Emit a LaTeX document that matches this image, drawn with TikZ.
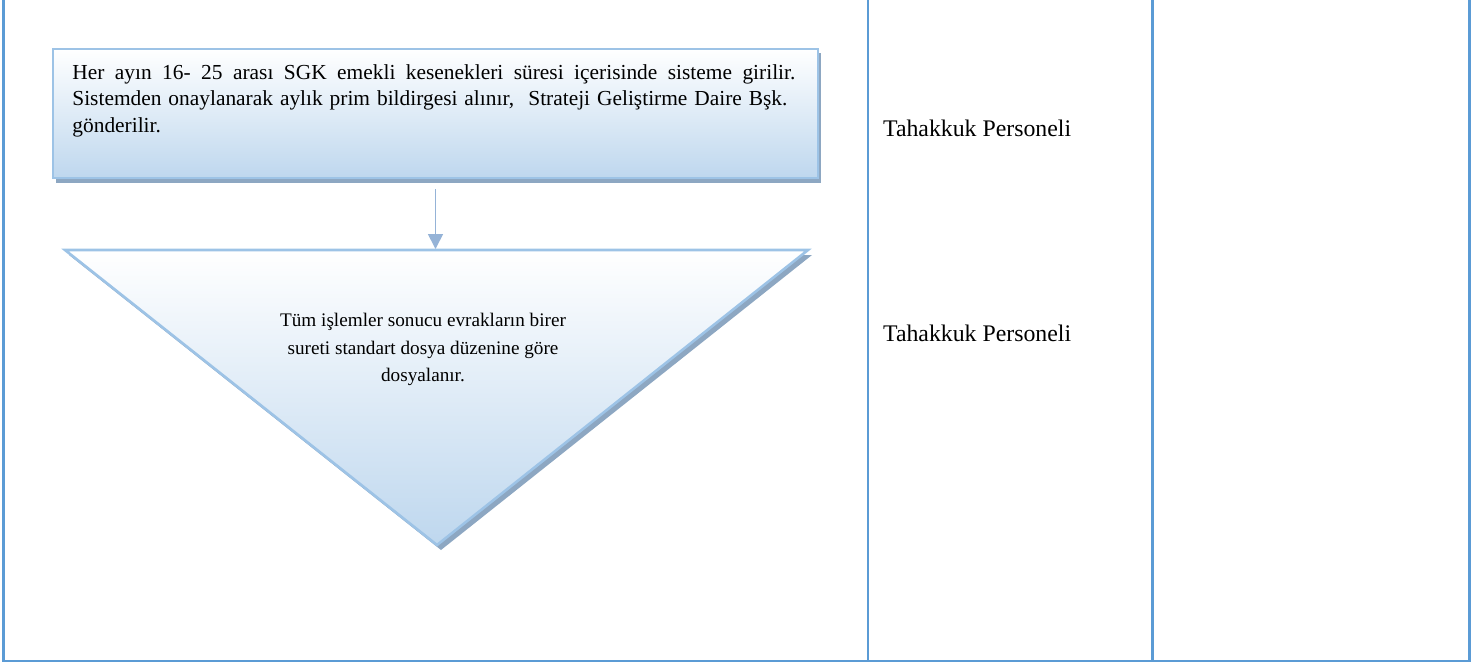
\documentclass[tikz,border=0pt]{standalone}
\usepackage{fontspec}
\setmainfont{Liberation Serif}
\usetikzlibrary{arrows.meta}
\definecolor{frameblue}{RGB}{91,155,213}
\definecolor{shapeborder}{RGB}{157,195,230}
\definecolor{shapefill}{RGB}{190,215,238}
\definecolor{shadowcol}{RGB}{141,167,194}
\definecolor{arrowcol}{RGB}{149,179,215}
\begin{document}
\begin{tikzpicture}[x=0.5pt,y=-0.5pt,
  frame/.style={draw=frameblue,line width=1.3pt},
  flowbox/.style={draw=shapeborder,line width=1pt,top color=white,bottom color=shapefill,
    minimum width=382.5pt,minimum height=64.5pt,inner sep=0pt,anchor=north west},
  flowtri/.style={draw=shapeborder,line width=1.3pt,top color=white,bottom color=shapefill},
  shadowfill/.style={fill=shadowcol},
  flowarrow/.style={draw=arrowcol,line width=0.85pt,-{Triangle[width=7.5pt,length=7.5pt]}},
  boxtext/.style={anchor=base west,inner sep=0pt,font=\fontsize{10.7}{12}\selectfont},
  tritext/.style={anchor=base,inner sep=0pt,font=\fontsize{9.6}{12}\selectfont},
  lanetext/.style={anchor=base west,inner sep=0pt,font=\fontsize{11.9}{14}\selectfont}]
\useasboundingbox (0,0) rectangle (1483,666);
% table frame
\draw[frame] (3.3,0) -- (3.3,661) -- (1469.3,661) -- (1469.3,0);
\draw[frame] (868,0) -- (868,661);
\draw[frame] (1152.3,0) -- (1152.3,661);
% process box
\fill[shadowfill] (56,53) rectangle (821,182.5);
\node[flowbox] (box) at (52,48) {};
\node[boxtext] (boxa) at (72,79) {\makebox[361.5pt][s]{Her ayın 16- 25 arası SGK emekli kesenekleri süresi içerisinde sisteme girilir.}};
\node[boxtext] (boxb) at (72,105.5) {\makebox[357.5pt][s]{Sistemden onaylanarak aylık prim bildirgesi alınır, \ Strateji Geliştirme Daire Bşk.}};
\node[boxtext] (boxc) at (72,132) {gönderilir.};
% triangle
\coordinate (tl) at (65,250);
\coordinate (tr) at (808,250);
\coordinate (tb) at (437,545);
\coordinate (tritop) at (436,249);
\fill[shadowfill] ([shift={(4,5)}]tl) -- ([shift={(4,5)}]tr) -- ([shift={(4,5)}]tb) -- cycle;
\path[flowtri] (tl) -- (tr) -- (tb) -- cycle;
\node[tritext] (tria) at (423,326.7) {Tüm işlemler sonucu evrakların birer};
\node[tritext] (trib) at (423,354) {sureti standart dosya düzenine göre};
\node[tritext] (tric) at (423,381) {dosyalanır.};
% connector
\draw[flowarrow] ([yshift=-5pt]box.south) -- (box.south |- tritop);
% lane labels
\node[lanetext] (lab1) at (882.7,136) {Tahakkuk Personeli};
\node[lanetext] (lab2) at (882.7,341.7) {Tahakkuk Personeli};
\end{tikzpicture}
\end{document}
